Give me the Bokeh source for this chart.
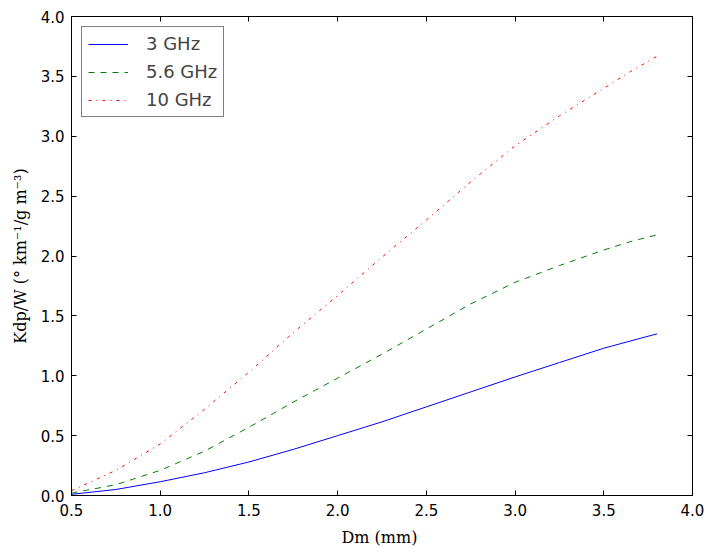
from bokeh.plotting import figure
from bokeh.models import LinearAxis, FixedTicker, Range1d, Legend, LegendItem, NumeralTickFormatter
from bokeh.embed import file_html
from bokeh.resources import INLINE

# diameter (mm)
dm = [0.5, 0.75, 1.0, 1.25, 1.5, 1.75, 2.0, 2.25, 2.5, 2.75, 3.0, 3.25, 3.5, 3.65, 3.8]
# Kdp/W for each frequency
k3 = [0.01, 0.05, 0.115, 0.19, 0.28, 0.385, 0.50, 0.615, 0.74, 0.865, 0.99, 1.11, 1.23, 1.29, 1.35]
k56 = [0.02, 0.09, 0.21, 0.37, 0.57, 0.78, 0.98, 1.18, 1.39, 1.60, 1.78, 1.92, 2.05, 2.12, 2.177]
k10 = [0.04, 0.21, 0.43, 0.72, 1.03, 1.36, 1.67, 1.99, 2.30, 2.62, 2.92, 3.17, 3.40, 3.54, 3.668]

xticks = [0.5, 1.0, 1.5, 2.0, 2.5, 3.0, 3.5, 4.0]
yticks = [0.0, 0.5, 1.0, 1.5, 2.0, 2.5, 3.0, 3.5, 4.0]

p = figure(frame_width=621, frame_height=479, output_backend="svg", toolbar_location=None,
           x_range=Range1d(0.5, 4.0), y_range=Range1d(0, 4.0),
           x_axis_location=None, y_axis_location=None,
           min_border_left=71, min_border_top=16, min_border_right=16, min_border_bottom=50)
p.xgrid.visible = False
p.ygrid.visible = False
p.outline_line_color = "black"
p.outline_line_width = 1
p.background_fill_color = "white"
p.border_fill_color = "white"

r1 = p.line(dm, k3, line_color="blue", line_width=1)
r2 = p.line(dm, k56, line_color="green", line_width=1, line_dash="6 6")
r3 = p.line(dm, k10, line_color="red", line_width=1, line_dash="3 5 1 5")

def style(ax, ticks, labels=True):
    ax.ticker = FixedTicker(ticks=ticks)
    ax.formatter = NumeralTickFormatter(format="0.0")
    ax.major_tick_in = 5
    ax.major_tick_out = 0
    ax.minor_tick_in = 0
    ax.minor_tick_out = 0
    ax.axis_line_color = "black"
    ax.major_tick_line_color = "black"
    ax.major_label_text_font = "DejaVu Sans"
    ax.major_label_text_font_size = "15px"
    ax.major_label_text_color = "black"
    if not labels:
        ax.major_label_text_font_size = "0px"
        ax.major_label_text_alpha = 0
        ax.major_label_standoff = 0

bottom = LinearAxis()
left = LinearAxis()
top = LinearAxis()
right = LinearAxis()
style(bottom, xticks)
style(left, yticks)
style(top, xticks, False)
style(right, yticks, False)
bottom.major_label_standoff = 8
left.major_label_standoff = 7
p.add_layout(bottom, "below")
p.add_layout(left, "left")
p.add_layout(top, "above")
p.add_layout(right, "right")

bottom.axis_label = "Dm  (mm)"
left.axis_label = "Kdp/W (° km⁻¹/g m⁻³)"
for ax in (bottom, left):
    ax.axis_label_text_font = "DejaVu Serif"
    ax.axis_label_text_font_style = "normal"
    ax.axis_label_text_font_size = "16px"
    ax.axis_label_text_color = "black"
bottom.axis_label_standoff = 9
left.axis_label_standoff = 8

legend = Legend(items=[LegendItem(label="3 GHz", renderers=[r1]),
                       LegendItem(label="5.6 GHz", renderers=[r2]),
                       LegendItem(label="10 GHz", renderers=[r3])],
                location="top_left")
legend.label_text_font = "DejaVu Sans"
legend.label_text_font_size = "18px"
legend.border_line_color = "black"
legend.border_line_width = 1
legend.margin = 10
legend.padding = 6
legend.spacing = 7
legend.glyph_width = 40
legend.label_standoff = 18
legend.background_fill_alpha = 1
p.add_layout(legend)

open("out.html", "w").write(file_html(p, INLINE))
